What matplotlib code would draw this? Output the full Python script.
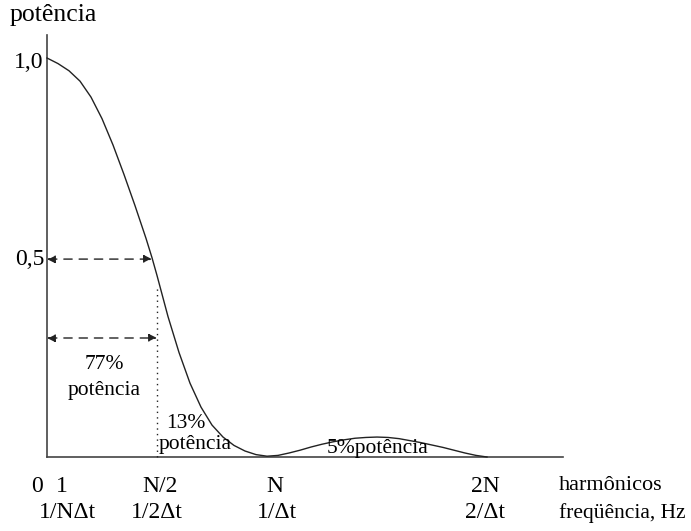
import matplotlib
matplotlib.use("Agg")
import matplotlib.pyplot as plt

# curve (x in units of N harmonics, y = relative power)
freq = [0.00, 0.05, 0.10, 0.15, 0.20, 0.25, 0.30, 0.35, 0.40, 0.45, 0.477, 0.50,
        0.55, 0.60, 0.65, 0.70, 0.75, 0.80, 0.85, 0.90, 0.95, 1.00, 1.05, 1.10,
        1.15, 1.20, 1.25, 1.30, 1.35, 1.40, 1.45, 1.50, 1.55, 1.60, 1.65, 1.70,
        1.75, 1.80, 1.85, 1.90, 1.95, 2.00]
power = [1.000, 0.986, 0.968, 0.942, 0.902, 0.848, 0.782, 0.708, 0.630, 0.548, 0.500, 0.455,
         0.352, 0.262, 0.185, 0.125, 0.080, 0.050, 0.029, 0.015, 0.006, 0.002, 0.004, 0.010,
         0.017, 0.025, 0.032, 0.038, 0.043, 0.047, 0.049, 0.050, 0.049, 0.046, 0.041, 0.036,
         0.030, 0.024, 0.017, 0.010, 0.004, 0.000]

harm_labels = ["0", "1", "N/2", "N", "2N"]
freq_labels = ["1/N\u0394t", "1/2\u0394t", "1/\u0394t", "2/\u0394t"]

plt.rcParams['font.family'] = ['Liberation Serif', 'DejaVu Serif']
fs = 17
fa = 15.5

fig = plt.figure(figsize=(6.91, 5.31), dpi=100)
ax = fig.add_axes([0, 0, 1, 1])
ax.axis('off')
# map pixels: x_px = 47 + 220*u ; y_px = 457 - 399*v
ax.set_xlim(-47/220, (691-47)/220)
ax.set_ylim(-(531-457)/399, 457/399)

def U(px):
    return (px - 47) / 220

def V(py):
    return (457 - py) / 399

lc = '#222222'
# axes lines
ax.plot([0, 0], [0, V(35)], color='#444444', lw=1.2)
ax.plot([0, U(563)], [0, 0], color='#444444', lw=1.2)

# curve
ax.plot(freq, power, color=lc, lw=1.0)

# dashed arrows
for y, x1 in [(0.496, 0.477), (V(338), 0.5)]:
    ax.annotate('', xy=(x1, y), xytext=(0, y),
                arrowprops=dict(arrowstyle='<|-|>', color=lc, lw=1.0, linestyle=(0, (6, 5)),
                                mutation_scale=12, shrinkA=0, shrinkB=0))
# dotted vertical
ax.plot([0.5, 0.5], [0, V(287)], color=lc, lw=1.0, linestyle=(0, (1, 3)))

# texts
ax.text(U(10), V(15), "potência", fontsize=18.5, ha='left', va='center')
ax.text(U(43), V(62), "1,0", fontsize=fs, ha='right', va='center')
ax.text(U(45), V(259), "0,5", fontsize=fs, ha='right', va='center')
ax.text(U(104), V(364), "77%", fontsize=fa, ha='center', va='center')
ax.text(U(104), V(390), "potência", fontsize=fa, ha='center', va='center')
ax.text(U(166), V(423), "13%", fontsize=fa, ha='left', va='center')
ax.text(U(159), V(444), "potência", fontsize=fa, ha='left', va='center')
ax.text(U(327), V(448), "5%potência", fontsize=fa, ha='left', va='center')

# tick labels
for px, lab in zip([37, 62, 160, 275, 485], harm_labels):
    ax.text(U(px), V(486), lab, fontsize=fs, ha='center', va='center')
for px, lab in zip([67, 157, 277, 485], freq_labels):
    ax.text(U(px), V(513), lab, fontsize=fs, ha='center', va='center')
ax.text(U(559), V(486), "harmônicos", fontsize=16, ha='left', va='center')
ax.text(U(559), V(513), "freqüência, Hz", fontsize=15.5, ha='left', va='center')

fig.savefig("out.png", dpi=100)
